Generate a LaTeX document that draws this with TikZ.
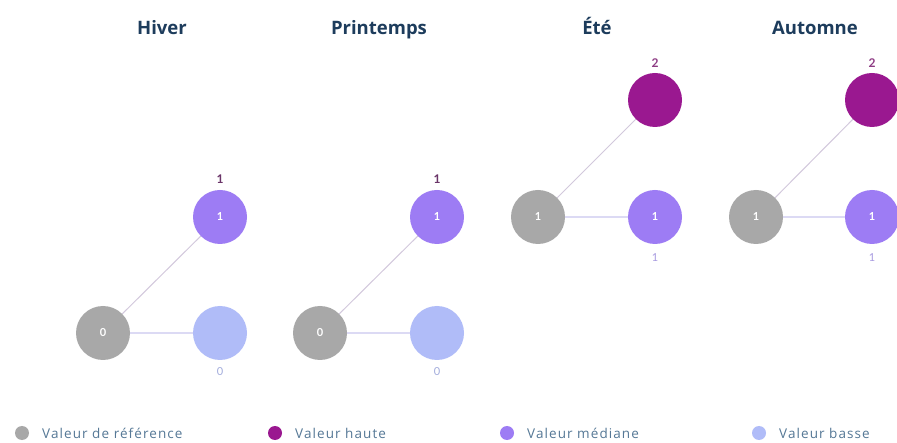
\documentclass[tikz,border=0pt]{standalone}
\usepackage{fontspec}
\setmainfont{Lato}
\newfontfamily\opensans{Open Sans}
\newfontfamily\opensansls{Open Sans}[LetterSpace=8]
\definecolor{refc}{HTML}{A8A8A8}
\definecolor{highc}{HTML}{9A1890}
\definecolor{medc}{HTML}{9D7CF4}
\definecolor{lowc}{HTML}{B0BCF8}
\definecolor{titlec}{HTML}{1D3C5C}
\definecolor{legc}{HTML}{557896}
\definecolor{diagc}{HTML}{D2C8DC}
\definecolor{horc}{HTML}{DCDAF4}
\definecolor{lbltop}{HTML}{6A3468}
\definecolor{lbltoph}{HTML}{8E3C84}
\definecolor{lbllow}{HTML}{A2ACDC}
\definecolor{lblmed}{HTML}{A79AE0}
\tikzset{
  bub/.style={circle, minimum size=54pt, inner sep=0pt, text=white, font=\fontsize{11}{11}\selectfont\bfseries},
  refb/.style={bub, fill=refc},
  highb/.style={bub, fill=highc},
  medb/.style={bub, fill=medc},
  lowb/.style={bub, fill=lowc},
  ttl/.style={anchor=base, inner sep=0pt, font=\opensans\fontsize{18.5}{18.5}\selectfont\bfseries, text=titlec},
  vlab/.style={font=\fontsize{12}{12}\selectfont\bfseries, inner sep=0pt},
  diag/.style={draw=diagc, line width=1pt},
  hor/.style={draw=horc, line width=1.4pt},
  legdot/.style={circle, minimum size=14pt, inner sep=0pt},
  legtxt/.style={anchor=west, inner sep=0pt, text=legc, font=\opensansls\fontsize{13.5}{13.5}\selectfont}
}
\begin{document}
\begin{tikzpicture}[x=1pt,y=-1pt]
\useasboundingbox (0,0) rectangle (897,443);
\fill[white] (0,0) rectangle (897,443);
% titles
\node[ttl] (t1) at (162,35) {Hiver};
\node[ttl] (t2) at (379,35) {Printemps};
\node[ttl] (t3) at (597,35) {Été};
\node[ttl] (t4) at (815,35) {Automne};
% Hiver
\node[refb] (g1) at (103,333) {0};
\node[medb] (u1) at (220,217) {1};
\node[lowb] (r1) at (220,333) {};
\node[vlab, text=lbltop] (lu1) at (220,179) {1};
\node[vlab, text=lbllow, font=\fontsize{11}{11}\selectfont] (lr1) at (220,372) {0};
\draw[diag] (g1) -- (u1);
\draw[hor] (g1) -- (r1);
% Printemps
\node[refb] (g2) at (320,333) {0};
\node[medb] (u2) at (437,217) {1};
\node[lowb] (r2) at (437,333) {};
\node[vlab, text=lbltop] (lu2) at (437,179) {1};
\node[vlab, text=lbllow, font=\fontsize{11}{11}\selectfont] (lr2) at (437,372) {0};
\draw[diag] (g2) -- (u2);
\draw[hor] (g2) -- (r2);
% Ete
\node[refb] (g3) at (538,217) {1};
\node[highb] (u3) at (655,100) {};
\node[medb] (r3) at (655,217) {1};
\node[vlab, text=lbltoph] (lu3) at (655,63) {2};
\node[vlab, text=lblmed, font=\fontsize{11}{11}\selectfont] (lr3) at (655,258) {1};
\draw[diag] (g3) -- (u3);
\draw[hor] (g3) -- (r3);
% Automne
\node[refb] (g4) at (756,217) {1};
\node[highb] (u4) at (872,100) {};
\node[medb] (r4) at (872,217) {1};
\node[vlab, text=lbltoph] (lu4) at (872,63) {2};
\node[vlab, text=lblmed, font=\fontsize{11}{11}\selectfont] (lr4) at (872,258) {1};
\draw[diag] (g4) -- (u4);
\draw[hor] (g4) -- (r4);
% legend
\node[legdot, fill=refc] (d1) at (22,433) {};
\node[legtxt] (e1) at (42,433) {Valeur de référence};
\node[legdot, fill=highc] (d2) at (275,433) {};
\node[legtxt] (e2) at (295,433) {Valeur haute};
\node[legdot, fill=medc] (d3) at (507,433) {};
\node[legtxt] (e3) at (527,433) {Valeur médiane};
\node[legdot, fill=lowc] (d4) at (759,433) {};
\node[legtxt] (e4) at (779,433) {Valeur basse};
\end{tikzpicture}
\end{document}
